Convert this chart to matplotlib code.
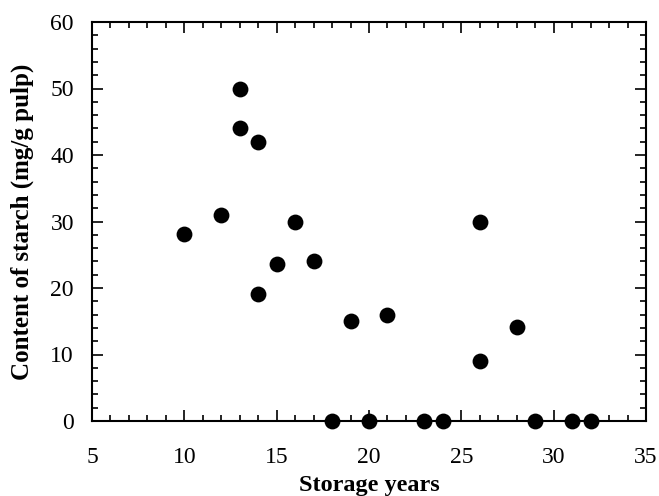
import matplotlib
matplotlib.use("Agg")
import matplotlib.pyplot as plt
from matplotlib.ticker import MultipleLocator

years = [10, 12, 13, 13, 14, 14, 15, 16, 17, 18, 19, 20, 21, 23, 24, 26, 26, 28, 29, 31, 32]
starch = [28.1, 31, 50, 44, 42, 19.1, 23.6, 30, 24, 0, 15, 0, 16, 0, 0, 30, 9, 14.1, 0, 0, 0]

plt.rcParams['font.family'] = ['Liberation Serif', 'DejaVu Serif']

fig = plt.figure(figsize=(6.59, 4.96), dpi=100)
ax = fig.add_axes([92/659, 1-421/496, (646-92)/659, (421-22)/496])
ax.scatter(years, starch, s=130, color='black', zorder=3, clip_on=False, linewidths=0)

ax.set_xlim(5, 35)
ax.set_ylim(0, 60)
ax.xaxis.set_major_locator(MultipleLocator(5))
ax.xaxis.set_minor_locator(MultipleLocator(1))
ax.yaxis.set_major_locator(MultipleLocator(10))
ax.yaxis.set_minor_locator(MultipleLocator(2))
ax.tick_params(which='both', direction='in', top=True, right=True, width=1.2, labelsize=17, colors='black')
ax.tick_params(axis='x', which='major', pad=19)
ax.tick_params(axis='y', which='major', pad=13)
ax.tick_params(which='major', length=8)
ax.tick_params(which='minor', length=4)
for sp in ax.spines.values():
    sp.set_linewidth(1.5)

ax.set_xlabel('Storage years', fontsize=17.5, fontweight='bold', labelpad=5)
ax.set_ylabel('Content of starch (mg/g pulp)', fontsize=18, fontweight='bold', labelpad=12)

fig.savefig('out.png', dpi=100)
